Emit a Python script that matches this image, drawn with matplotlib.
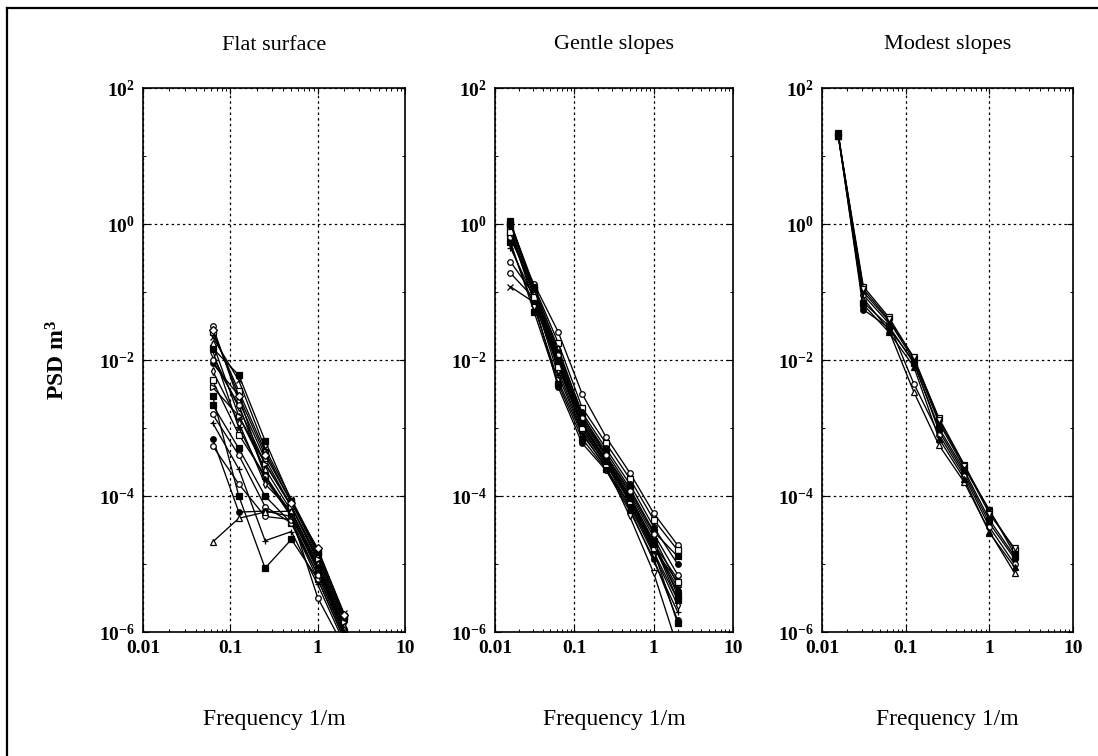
import numpy as np
import matplotlib
matplotlib.use('Agg')
import matplotlib.pyplot as plt
from matplotlib.ticker import FixedLocator, FixedFormatter, LogLocator, NullFormatter

plt.rcParams['font.family'] = ['Liberation Serif', 'DejaVu Serif']
plt.rcParams['mathtext.fontset'] = 'custom'
plt.rcParams['mathtext.rm'] = 'Liberation Serif:bold'
plt.rcParams['mathtext.it'] = 'Liberation Serif:bold'
plt.rcParams['mathtext.bf'] = 'Liberation Serif:bold'

# --- DATA ---
titles = ['Flat surface', 'Gentle slopes', 'Modest slopes']
x_label = 'Frequency 1/m'
y_label = r'PSD m$^3$'
x_ticks = [0.01, 0.1, 1, 10]
x_tick_labels = ['0.01', '0.1', '1', '10']
y_ticks = [1e-6, 1e-4, 1e-2, 1e0, 1e2]
y_tick_labels = [r'$10^{-6}$', r'$10^{-4}$', r'$10^{-2}$', r'$10^{0}$', r'$10^{2}$']

freq_flat = [1/16, 1/8, 1/4, 1/2, 1, 2]
psd_flat = [
    [3.2e-2, 2.5e-3, 3.5e-4, 7.0e-5, 1.3e-5, 1.5e-6],
    [2.6e-2, 3.5e-3, 4.5e-4, 8.0e-5, 1.4e-5, 1.7e-6],
    [2.2e-2, 5.0e-3, 5.0e-4, 9.0e-5, 1.6e-5, 1.9e-6],
    [1.5e-2, 6.0e-3, 6.5e-4, 8.5e-5, 1.5e-5, 1.6e-6],
    [1.8e-2, 1.5e-3, 2.5e-4, 6.0e-5, 1.0e-5, 1.2e-6],
    [1.2e-2, 2.0e-3, 3.0e-4, 7.0e-5, 1.1e-5, 1.3e-6],
    [9.0e-3, 3.0e-3, 2.0e-4, 5.0e-5, 9.0e-6, 1.1e-6],
    [7.0e-3, 1.2e-3, 1.5e-4, 6.0e-5, 1.0e-5, 1.2e-6],
    [5.0e-3, 8.0e-4, 2.0e-4, 5.5e-5, 8.0e-6, 1.0e-6],
    [3.0e-3, 1.0e-4, 8.7e-6, 2.3e-5, 6.0e-6, 8.0e-7],
    [2.2e-3, 5.0e-4, 1.0e-4, 4.0e-5, 7.0e-6, 9.0e-7],
    [1.6e-3, 4.0e-4, 7.0e-5, 4.0e-5, 6.0e-6, 8.0e-7],
    [1.2e-3, 2.5e-4, 2.2e-5, 3.0e-5, 5.0e-6, 7.0e-7],
    [7.0e-4, 5.8e-5, 6.0e-5, 5.0e-5, 8.0e-6, 1.0e-6],
    [5.5e-4, 1.5e-4, 5.0e-5, 4.5e-5, 7.0e-6, 9.0e-7],
    [2.1e-5, 4.7e-5, 5.8e-5, 6.0e-5, 9.0e-6, 1.1e-6],
    [1.0e-2, 2.2e-3, 2.0e-4, 5.0e-5, 3.2e-6, 6.0e-7],
    [4.0e-3, 1.5e-3, 3.0e-4, 7.0e-5, 1.2e-5, 1.4e-6],
    [2.8e-2, 3.0e-3, 4.0e-4, 8.0e-5, 1.7e-5, 1.8e-6],
    [1.4e-2, 1.0e-3, 1.8e-4, 5.0e-5, 9.0e-6, 1.0e-6],
]

freq_gentle = [1/64, 1/32, 1/16, 1/8, 1/4, 1/2, 1, 2]
psd_gentle = [
    [0.60, 0.13, 0.026, 3.2e-3, 7.4e-4, 2.2e-4, 5.6e-5, 1.9e-5],
    [0.90, 0.12, 0.018, 2.0e-3, 6.0e-4, 1.8e-4, 4.5e-5, 1.6e-5],
    [1.10, 0.10, 0.012, 1.5e-3, 4.5e-4, 1.3e-4, 3.0e-5, 1.3e-5],
    [0.12, 0.07, 0.008, 1.2e-3, 3.5e-4, 1.0e-4, 2.0e-5, 6.0e-6],
    [0.19, 0.08, 0.009, 1.0e-3, 3.0e-4, 9.0e-5, 1.8e-5, 4.0e-6],
    [0.28, 0.09, 0.010, 1.1e-3, 3.2e-4, 8.0e-5, 1.5e-5, 3.0e-6],
    [0.80, 0.07, 0.004, 6.0e-4, 2.4e-4, 6.0e-5, 1.2e-5, 1.5e-6],
    [1.00, 0.11, 0.015, 1.6e-3, 4.0e-4, 1.1e-4, 2.5e-5, 5.0e-6],
    [0.50, 0.06, 0.005, 8.0e-4, 2.8e-4, 5.0e-5, 7.4e-6, 6.0e-7],
    [0.70, 0.09, 0.011, 1.3e-3, 3.8e-4, 1.0e-4, 2.2e-5, 3.5e-6],
    [0.95, 0.10, 0.007, 9.0e-4, 3.0e-4, 7.0e-5, 1.4e-5, 2.5e-6],
    [0.45, 0.08, 0.006, 8.5e-4, 2.6e-4, 6.5e-5, 1.1e-5, 2.0e-6],
    [1.05, 0.12, 0.013, 1.7e-3, 5.0e-4, 1.5e-4, 3.5e-5, 1.0e-5],
    [0.55, 0.05, 0.0045, 7.0e-4, 2.5e-4, 7.5e-5, 1.6e-5, 1.35e-6],
    [0.85, 0.09, 0.009, 1.1e-3, 3.5e-4, 9.0e-5, 1.9e-5, 4.5e-6],
    [0.65, 0.10, 0.012, 1.4e-3, 4.0e-4, 1.2e-4, 2.8e-5, 7.0e-6],
    [0.75, 0.085, 0.008, 1.0e-3, 3.0e-4, 8.5e-5, 1.7e-5, 5.5e-6],
    [1.00, 0.11, 0.010, 1.2e-3, 3.3e-4, 9.5e-5, 2.0e-5, 3.0e-6],
]

freq_modest = [1/64, 1/32, 1/16, 1/8, 1/4, 1/2, 1, 2]
psd_modest = [
    [20, 0.12, 0.043, 0.0107, 1.4e-3, 2.9e-4, 6.0e-5, 1.6e-5],
    [21, 0.055, 0.030, 0.0095, 9.0e-4, 2.2e-4, 4.0e-5, 1.2e-5],
    [20, 0.09, 0.035, 0.0045, 8.0e-4, 2.0e-4, 3.5e-5, 1.0e-5],
    [20, 0.08, 0.028, 0.0034, 5.6e-4, 1.6e-4, 3.0e-5, 7.4e-6],
    [21, 0.10, 0.038, 0.0100, 1.2e-3, 2.6e-4, 6.3e-5, 1.4e-5],
    [20, 0.065, 0.026, 0.0080, 7.0e-4, 1.8e-4, 2.9e-5, 9.0e-6],
    [20, 0.11, 0.040, 0.0110, 1.3e-3, 2.8e-4, 5.5e-5, 1.7e-5],
    [22, 0.07, 0.032, 0.0090, 1.0e-3, 2.4e-4, 4.5e-5, 1.3e-5],
]

# marker per series (marker, filled)
markers_flat = [('o', False), ('s', False), ('x', True), ('s', True), ('^', False),
                ('v', False), ('o', True), ('d', False), ('s', False), ('s', True),
                ('s', True), ('o', False), ('+', True), ('o', True), ('o', False),
                ('^', False), ('o', False), ('>', False), ('D', False), ('*', True)]
markers_gentle = [('o', False), ('s', False), ('s', True), ('x', True), ('o', False),
                  ('o', False), ('o', True), ('^', False), ('v', False), ('s', True),
                  ('d', False), ('+', True), ('o', True), ('s', True), ('^', True),
                  ('o', False), ('s', False), ('s', True)]
markers_modest = [('s', False), ('o', True), ('o', False), ('^', False), ('v', True),
                  ('^', True), ('v', False), ('s', True)]

# axes boxes in pixels (left, right) on a 1098x756 canvas
W, H = 1098, 756
panel_x = [(143, 405), (495, 733), (822, 1073)]
ax_top, ax_bottom = 88, 632


def draw_panel(ax, freq, series, markers):
    for vals, (m, filled) in zip(series, markers):
        ax.plot(freq, vals, color='black', lw=0.95, marker=m, ms=4.0, mew=0.9,
                mfc='black' if filled else 'white', mec='black')
    ax.set_xscale('log')
    ax.set_yscale('log')
    ax.set_xlim(0.01, 10)
    ax.set_ylim(1e-6, 1e2)
    ax.xaxis.set_major_locator(FixedLocator(x_ticks))
    ax.xaxis.set_major_formatter(FixedFormatter(x_tick_labels))
    ax.yaxis.set_major_locator(FixedLocator(y_ticks))
    ax.yaxis.set_major_formatter(FixedFormatter(y_tick_labels))
    ax.xaxis.set_minor_locator(LogLocator(base=10, subs=np.arange(2, 10), numticks=20))
    ax.yaxis.set_minor_locator(LogLocator(base=10, subs=(1.0,), numticks=20))
    ax.xaxis.set_minor_formatter(NullFormatter())
    ax.yaxis.set_minor_formatter(NullFormatter())
    ax.tick_params(which='both', direction='in', top=True, right=True, colors='black')
    ax.tick_params(which='major', length=4, width=0.8, labelsize=14, pad=6)
    ax.tick_params(which='minor', length=2.5, width=0.7)
    for lab in ax.get_xticklabels():
        lab.set_fontweight('bold')
    ax.grid(True, which='major', color='black', lw=0.9, ls=(0, (2, 2.5)))
    for s in ax.spines.values():
        s.set_linewidth(1.2)


fig = plt.figure(figsize=(W / 100, H / 100), dpi=100)

all_freq = [freq_flat, freq_gentle, freq_modest]
all_psd = [psd_flat, psd_gentle, psd_modest]
all_markers = [markers_flat, markers_gentle, markers_modest]

for k in range(3):
    l, r = panel_x[k]
    ax = fig.add_axes([l / W, 1 - ax_bottom / H, (r - l) / W, (ax_bottom - ax_top) / H])
    draw_panel(ax, all_freq[k], all_psd[k], all_markers[k])
    cx = (l + r) / 2 / W
    fig.text(cx, 1 - 45 / H, titles[k], ha='center', va='center', fontsize=16)
    fig.text(cx, 1 - 720 / H, x_label, ha='center', va='center', fontsize=17)

fig.text(58 / W, 1 - 360 / H, y_label, rotation=90, ha='center', va='center',
         fontsize=17, fontweight='bold')

# scanned page frame (left and top edges visible)
fig.add_artist(plt.Line2D([7 / W, 7 / W], [0, 1 - 8 / H], color='black', lw=1.6))
fig.add_artist(plt.Line2D([7 / W, 1], [1 - 8 / H, 1 - 8 / H], color='black', lw=1.6))

fig.savefig('out.png', dpi=100)
